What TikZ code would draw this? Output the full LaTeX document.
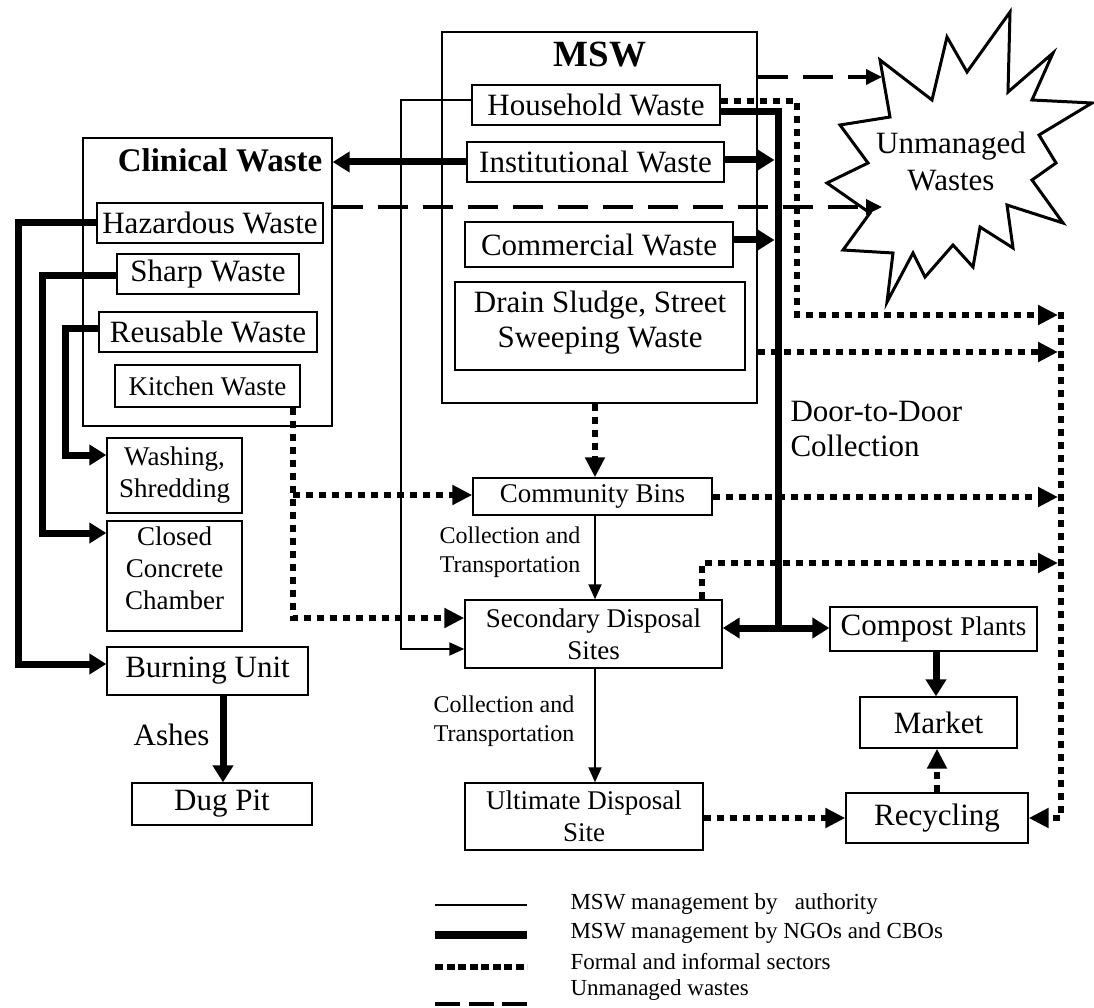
\documentclass[tikz,border=0pt]{standalone}
\usepackage{fontspec}
\setmainfont{Liberation Serif}
\usetikzlibrary{arrows.meta}

% text sizes used in the chart
\newcommand\txtreg{\fontsize{31}{35}\selectfont}
\newcommand\txtthin{\fontsize{27}{32}\selectfont}
\newcommand\txtlab{\fontsize{24}{29}\selectfont}
\newcommand\txtleg{\fontsize{23}{27}\selectfont}

\tikzset{
  frame/.style={draw, line width=1.4pt, inner sep=0pt},
  boxr/.style={draw, line width=1.4pt, fill=white, inner sep=0pt, align=center, font=\txtreg},
  boxt/.style={boxr, font=\txtthin},
  % flow types
  authority/.style={line width=2pt, >={Triangle[length=15pt,width=13pt]}, ->},
  ngo/.style={line width=7pt, >={Triangle[length=17pt,width=20pt]}, ->},
  sector/.style={line width=6pt, dash pattern=on 7pt off 6pt, >={Triangle[length=20pt,width=19pt]}, ->},
  unman/.style={line width=3.5pt, dash pattern=on 30pt off 15pt, >={Triangle[length=16pt,width=15pt]}, ->},
}

\begin{document}
\begin{tikzpicture}[x=1pt,y=-1pt]
\useasboundingbox (0,0) rectangle (1094,1008);

% ---------- MSW group ----------
\node[frame, minimum width=315pt, minimum height=371pt] (msw) at (599.5,217.5) {};
\node[font={\fontsize{37}{40}\selectfont\bfseries}] (mswt) at (600,55) {MSW};
\node[boxr, minimum width=248pt, minimum height=40pt] (hh) at (596,105) {Household Waste};
\node[boxr, minimum width=257pt, minimum height=40pt] (inst) at (595.5,162) {Institutional Waste};
\node[boxr, minimum width=268pt, minimum height=45pt] (comm) at (599,244.5) {Commercial Waste};
\node[boxr, minimum width=290pt, minimum height=88pt, text depth=14pt] (drain) at (600,326) {Drain Sludge, Street\\Sweeping Waste};

% ---------- Clinical group ----------
\node[frame, minimum width=249pt, minimum height=288pt] (clin) at (207.5,282) {};
\node[font={\fontsize{33}{36}\selectfont\bfseries}] (clint) at (220,160) {Clinical Waste};
\node[boxr, minimum width=226pt, minimum height=40pt] (haz) at (210,223) {Hazardous Waste};
\node[boxr, minimum width=182pt, minimum height=40pt] (sharp) at (208,274) {Sharp Waste};
\node[boxr, minimum width=218pt, minimum height=40pt] (reus) at (208,332) {Reusable Waste};
\node[boxt, minimum width=185pt, minimum height=42pt] (kitch) at (207.5,386) {Kitchen Waste};

\node[boxt, minimum width=135pt, minimum height=75pt] (wash) at (174.5,475.5) {Washing,\\Shredding};
\node[boxt, minimum width=135pt, minimum height=110pt, text depth=16pt] (closed) at (174.5,576) {Closed\\Concrete\\Chamber};
\node[boxr, minimum width=201pt, minimum height=48pt] (burn) at (207.5,671) {Burning Unit};
\node[boxr, minimum width=180pt, minimum height=42pt] (dug) at (222,804) {Dug Pit};

% ---------- disposal chain ----------
\node[boxt, minimum width=239pt, minimum height=37pt] (cbins) at (592.5,496.5) {Community Bins};
\node[boxt, minimum width=257pt, minimum height=68pt] (sds) at (593.5,634) {Secondary Disposal\\Sites};
\node[boxt, minimum width=238pt, minimum height=67pt] (ult) at (584,816.5) {Ultimate Disposal\\Site};
\node[boxr, minimum width=207pt, minimum height=44pt] (compost) at (933.5,629) {Compost {\txtthin Plants}};
\node[boxr, minimum width=157pt, minimum height=51pt] (market) at (938.5,722.5) {Market};
\node[boxr, minimum width=182pt, minimum height=50pt] (recyc) at (937,818) {Recycling};

% ---------- unmanaged wastes burst ----------
\draw[line width=3pt, fill=white, line join=miter]
  (880,60) -- (932,100) -- (947,37) -- (967,72) -- (1010,12) -- (1008,92)
  -- (1053,53) -- (1032,100) -- (1092,103) -- (1039,135) -- (1056,163)
  -- (1032,180) -- (1063,223) -- (1007,205) -- (1013,248) -- (980,227)
  -- (973,267) -- (953,245) -- (925,277) -- (913,253) -- (887,302)
  -- (893,253) -- (843,250) -- (870,213) -- (827,183) -- (868,163)
  -- (840,125) -- (890,117) -- cycle;
\node[font={\fontsize{31}{37}\selectfont}, align=center] (unm) at (951,161) {Unmanaged\\Wastes};
\coordinate (s1) at (882,77);
\coordinate (s2) at (882,207);

% ---------- labels ----------
\node[font=\txtreg, anchor=east] (ash) at (213,735) {Ashes};
\node[font=\txtlab, align=center] (ct1) at (510,552) {Collection and\\Transportation};
\node[font=\txtlab, align=center] (ct2) at (504,721) {Collection and\\Transportation};
\node[font=\txtreg, align=left, anchor=west] (d2d) at (787,429) {Door-to-Door\\Collection};

% ---------- authority flows ----------
\draw[authority] (hh.west |- 0,100) -- (401,100) -- (401,649) -- (sds.west |- 0,649);
\draw[authority] (cbins.south -| 595,0) -- (sds.north -| 595,0);
\draw[authority] (sds.south -| 595,0) -- (ult.north -| 595,0);

% ---------- NGO / CBO flows ----------
\draw[ngo, -] (hh.east |- 0,112) -- (778,112) -- (778,628);
\draw[ngo, <->] (sds.east |- 0,628) -- (compost.west |- 0,628);
\draw[ngo] (inst.east |- 0,160) -- (774.5,160);
\draw[ngo] (comm.east |- 0,240) -- (774.5,240);
\draw[ngo] (inst.west |- 0,162) -- (clin.east |- 0,162);
\draw[ngo] (haz.west) -- (18,223) -- (18,664) -- (burn.west |- 0,664);
\draw[ngo] (sharp.west |- 0,275) -- (42,275) -- (42,533) -- (closed.west |- 0,533);
\draw[ngo] (reus.west |- 0,328) -- (65,328) -- (65,455) -- (wash.west |- 0,455);
\draw[ngo] (burn.south -| 223,0) -- (dug.north -| 223,0);
\draw[ngo] (compost.south -| 936,0) -- (market.north -| 936,0);

% ---------- formal and informal sectors ----------
\draw[sector] (hh.east |- 0,101) -- (797,101) -- (797,315) -- (1058,315);
\draw[sector] (1061,312) -- (1061,818) -- (recyc.east |- 0,818);
\draw[sector] (msw.east |- 0,352) -- (1058,352);
\draw[sector] (msw.south -| 595,0) -- (cbins.north -| 595,0);
\draw[sector] (kitch.south -| 293,0) -- (293,618) -- (sds.west |- 0,618);
\draw[sector] (293,495) -- (cbins.west |- 0,495);
\draw[sector] (cbins.east |- 0,497) -- (1058,497);
\draw[sector] (sds.north -| 702,0) -- (702,563) -- (1058,563);
\draw[sector] (ult.east |- 0,818) -- (recyc.west |- 0,818);
\draw[sector] (recyc.north -| 937,0) -- (market.south -| 937,0);

% ---------- unmanaged flows ----------
\draw[unman] (msw.east |- 0,77) -- (s1);
\draw[unman] (clin.east |- 0,207) -- (s2);

% ---------- legend ----------
\draw[line width=2pt] (435,905) -- (527,905);
\draw[line width=8pt] (435,935) -- (527,935);
\draw[line width=6pt, dash pattern=on 8.3pt off 3.2pt] (435,967) -- (527,967);
\draw[line width=4pt, dash pattern=on 25pt off 8.5pt] (435,1004) -- (527,1004);
\node[font=\txtleg, anchor=west] (lg1) at (567,904) {MSW management by \ \ authority};
\node[font=\txtleg, anchor=west] (lg2) at (567,933) {MSW management by NGOs and CBOs};
\node[font=\txtleg, anchor=west] (lg3) at (567,962) {Formal and informal sectors};
\node[font=\txtleg, anchor=west] (lg4) at (567,990) {Unmanaged wastes};
\end{tikzpicture}
\end{document}
